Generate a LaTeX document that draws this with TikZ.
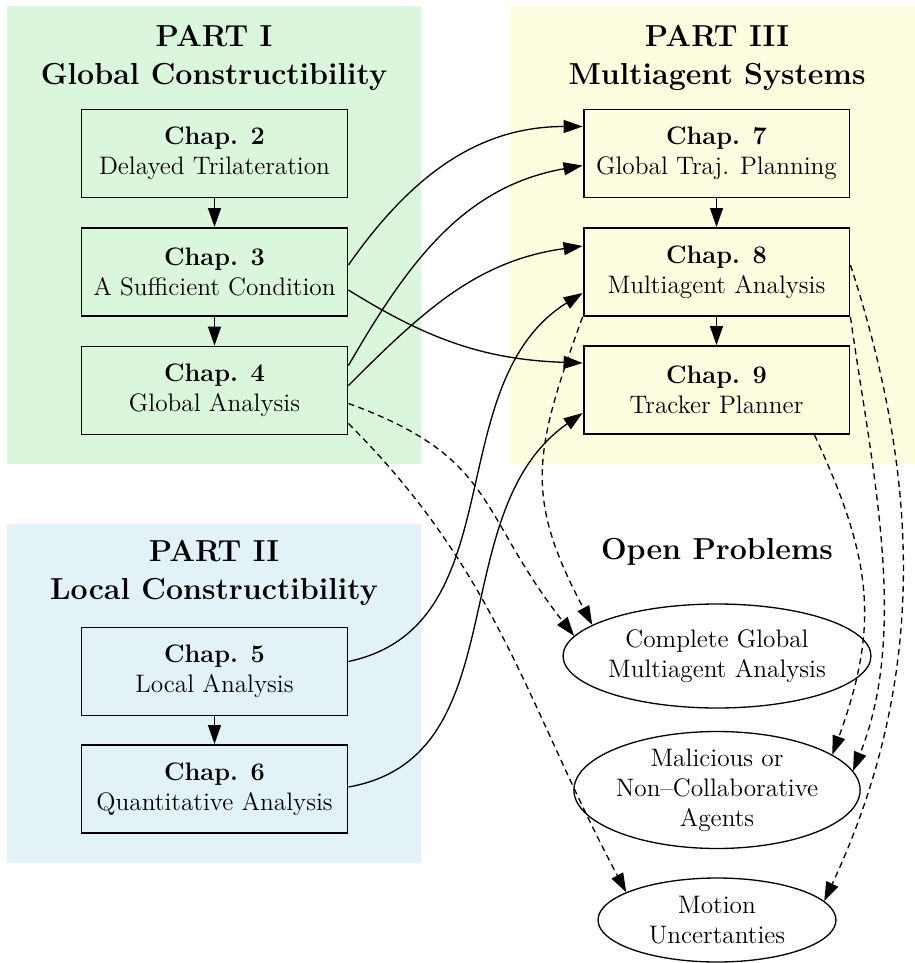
\documentclass[tikz,border=0pt]{standalone}
\usepackage{tikz}
\usetikzlibrary{arrows.meta,shapes.geometric,positioning,calc}
\definecolor{PartGreen} {RGB}{218,247,221}
\definecolor{PartYellow}{RGB}{255,253,224}
\definecolor{PartBlue}  {RGB}{227,242,247}

\begin{document}
\begin{tikzpicture}[x=0.02cm,y=-0.02cm,
    chapbox/.style={draw,line width=1.1pt,minimum width=5.32cm,minimum height=1.76cm,
      align=center,font=\fontsize{14.4}{17}\selectfont},
    probnode/.style={draw,ellipse,line width=0.75pt,inner sep=0pt,align=center,
      font=\fontsize{14.4}{17}\selectfont},
    parttitle/.style={align=center,font=\LARGE\bfseries},
    link/.style={-{Triangle[length=0.38cm,width=0.26cm]},line width=0.75pt},
    openlink/.style={link,dash pattern=on 3.5pt off 2.5pt}]
  \useasboundingbox (0,0) rectangle (915,963);

  % part backgrounds
  \fill[PartGreen]  (7,6)   rectangle (421,464);
  \fill[PartYellow] (510,6) rectangle (915,464);
  \fill[PartBlue]   (7,524) rectangle (421,863);

  \node[parttitle] (part1) at (214,58)  {PART I\\Global Constructibility};
  \node[parttitle] (part2) at (214,573) {PART II\\Local Constructibility};
  \node[parttitle] (part3) at (717,58)  {PART III\\Multiagent Systems};
  \node[parttitle] (open)  at (717,552) {Open Problems};

  % chapters
  \node[chapbox] (ch2) at (214.5,153.5) {\textbf{Chap. 2}\\Delayed Trilateration};
  \node[chapbox] (ch3) at (214.5,272)   {\textbf{Chap. 3}\\A Sufficient Condition};
  \node[chapbox] (ch4) at (214.5,390.5) {\textbf{Chap. 4}\\Global Analysis};
  \node[chapbox] (ch5) at (214.5,671.5) {\textbf{Chap. 5}\\Local Analysis};
  \node[chapbox] (ch6) at (214.5,789)   {\textbf{Chap. 6}\\Quantitative Analysis};
  \node[chapbox] (ch7) at (716.5,153.5) {\textbf{Chap. 7}\\Global Traj. Planning};
  \node[chapbox] (ch8) at (716.5,272)   {\textbf{Chap. 8}\\Multiagent Analysis};
  \node[chapbox] (ch9) at (716.5,390)   {\textbf{Chap. 9}\\Tracker Planner};

  % open problems
  \node[probnode,minimum width=5.04cm,minimum height=2.08cm] (cga) at (717,656)
    {Complete Global\\Multiagent Analysis};
  \node[probnode,minimum width=4.74cm,minimum height=2.34cm] (mal) at (717,790)
    {Malicious or\\Non--Collaborative\\Agents};
  \node[probnode,minimum width=4.76cm,minimum height=1.68cm] (mot) at (717,920)
    {Motion\\Uncertanties};

  % inside each part
  \draw[link] (ch2) -- (ch3);
  \draw[link] (ch3) -- (ch4);
  \draw[link] (ch5) -- (ch6);
  \draw[link] (ch7) -- (ch8);
  \draw[link] (ch8) -- (ch9);

  % between parts
  \draw[link] ($(ch3.east)+(0,-7)$)  to[out=55,in=180] ($(ch7.west)+(0,-27)$);
  \draw[link] ($(ch4.east)+(0,-25)$) to[out=60,in=190] ($(ch7.west)+(0,12)$);
  \draw[link] ($(ch4.east)+(0,-5)$)  to[out=45,in=188] ($(ch8.west)+(0,-26)$);
  \draw[link] ($(ch3.east)+(0,18)$)  to[out=-32,in=178] ($(ch9.west)+(0,-27)$);
  \draw[link] ($(ch5.east)+(0,-10)$) to[out=12,in=212] ($(ch8.west)+(0,21)$);
  \draw[link] ($(ch6.east)+(0,-2)$)  to[out=10,in=215] ($(ch9.west)+(0,23)$);

  % towards the open problems
  \draw[openlink] ($(ch4.east)+(0,13)$) to[out=-20,in=128,looseness=1.25] (cga.172);
  \draw[openlink] ($(ch4.east)+(0,33)$) to[out=-45,in=118] (mot.163);
  \draw[openlink] (ch8.south west) to[out=-110,in=118,looseness=1.2] (cga.166);
  \draw[openlink] ($(ch9.south)+(98,0)$) to[out=-65,in=70,looseness=1.1] (mal.17);
  \draw[openlink] (ch8.south east) to[out=-82,in=68,looseness=0.85] (mal.8);
  \draw[openlink] ($(ch8.east)+(0,-7)$) to[out=-72,in=65,looseness=0.95] (mot.10);
\end{tikzpicture}
\end{document}
